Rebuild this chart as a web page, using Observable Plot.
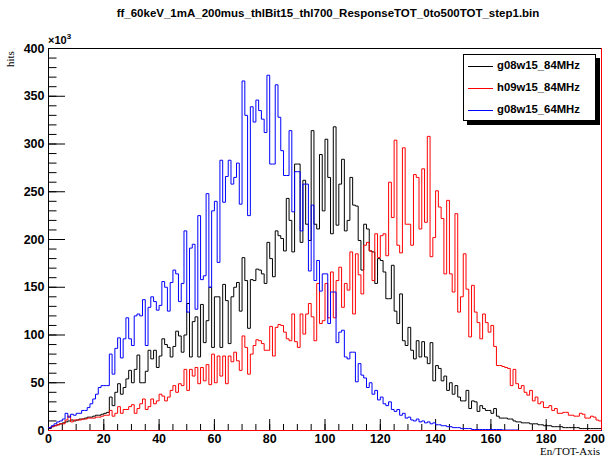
<!DOCTYPE html>
<html><head><meta charset="utf-8">
<script src="https://cdn.jsdelivr.net/npm/d3@7"></script>
<script src="https://cdn.jsdelivr.net/npm/@observablehq/plot@0.6"></script>
<style>
body{margin:0;background:#fff;}
#wrap{position:relative;width:608px;height:461px;font-family:"Liberation Sans",Arial,sans-serif;}
#title{position:absolute;left:24px;top:7px;width:608px;text-align:center;font-weight:bold;font-size:11.5px;color:#000;white-space:nowrap;}
#ylab{position:absolute;left:4px;top:47px;font-family:"Liberation Serif",serif;font-size:11px;transform-origin:left top;transform:translate(0,20px) rotate(-90deg);}
#mult{position:absolute;left:48px;top:32px;font-weight:bold;font-size:11px;}
#xlab{position:absolute;right:8px;top:445px;font-family:"Liberation Serif",serif;font-size:11px;}
#legend{position:absolute;left:463px;top:54px;width:131px;height:65px;border:1px solid #000;background:#fff;box-shadow:4px 4px 0 #000;}
.row{position:absolute;left:0;height:14px;font-weight:bold;font-size:11.3px;}
.row span.l{position:absolute;left:4px;top:7px;width:25px;border-top:1px solid;}
.row span.t{position:absolute;left:33px;top:0;white-space:nowrap;}
</style></head><body>
<div id="wrap">
<div id="chart"></div>
<div id="title"></div>
<div id="ylab">hits</div>
<div id="mult">×10<sup style="font-size:8px">3</sup></div>
<div id="xlab">En/TOT-Axis</div>
<div id="legend"></div>
</div>
<script>
const title = "ff_60keV_1mA_200mus_thlBit15_thl700_ResponseTOT_0to500TOT_step1.bin";
const seriesNames = ["g08w15_84MHz", "h09w15_84MHz", "g08w15_64MHz"];
const seriesColors = ["#000000", "#ff0000", "#0000ff"];
const xTicks = [0, 20, 40, 60, 80, 100, 120, 140, 160, 180, 200];
const yTicks = [0, 50, 100, 150, 200, 250, 300, 350, 400];
const binStarts = d3.range(0, 200);

// values in thousands of hits, bins 0..199
const g08w15_84 = [
2,4,5,6,7,8,9,10,11,10,
11,12,12,13,14,14,15,16,16,17,
18,19,35,26,40,49,38,45,54,63,
50,64,79,50,50,62,84,75,84,66,
78,96,90,87,77,88,104,99,82,100,
133,77,114,119,77,132,92,115,150,87,
140,140,87,153,136,91,140,150,155,125,
181,157,107,158,157,169,168,164,154,197,
180,161,209,204,201,188,243,220,187,279,
279,197,262,216,199,314,216,211,289,230,
305,265,206,318,215,258,284,209,220,265,
236,235,199,168,216,211,188,187,154,180,
178,166,138,138,173,125,112,143,94,89,
108,84,75,94,77,93,77,70,92,52,
68,65,52,57,42,50,38,47,35,31,
31,42,23,31,30,20,26,23,21,21,
18,23,15,13,13,13,12,12,10,9,
9,8,8,8,7,7,7,6,6,5,
5,5,4,4,4,4,3,3,3,3,
3,3,2,2,2,2,2,2,2,2];
const h09w15_84 = [
3,4,5,6,7,7,11,15,9,11,
11,11,12,12,13,13,13,14,14,15,
16,16,21,15,18,25,18,22,22,25,
27,18,23,28,33,22,25,33,28,31,
38,36,31,35,42,47,40,49,47,64,
42,64,57,66,49,66,52,69,48,80,
50,78,57,78,49,78,72,82,73,63,
99,87,59,80,89,95,94,91,84,84,
109,78,108,111,110,103,96,94,122,93,
87,122,101,122,133,119,94,154,112,115,
154,118,166,118,157,171,129,154,147,187,
122,185,163,143,194,197,188,157,206,181,
204,206,183,260,223,304,194,186,296,216,
216,194,268,265,211,274,218,308,182,202,
251,234,222,164,241,164,145,227,124,140,
185,148,98,152,124,113,96,122,113,103,
110,88,68,68,67,66,65,47,64,49,
44,47,40,37,42,31,35,28,30,24,
24,26,21,23,18,18,19,19,16,16,
15,15,18,17,13,13,15,14,11,10];
const g08w15_64 = [
3,5,7,9,10,12,18,14,17,16,
18,18,21,21,24,28,33,38,45,47,
47,47,80,59,86,97,76,96,118,96,
89,120,122,120,137,89,129,140,135,126,
131,156,150,125,155,168,164,135,154,209,
124,191,195,127,225,158,162,248,150,230,
240,176,283,239,266,283,258,265,280,237,
366,330,225,339,323,346,335,326,312,372,
279,279,362,328,293,267,267,314,229,271,
271,209,258,258,167,236,157,178,146,164,
164,112,145,145,92,103,105,77,75,82,
82,51,70,58,55,45,50,38,42,32,
35,28,26,30,22,20,22,16,18,13,
14,11,10,12,9,10,8,9,7,8,
6,6,5,5,4,4,3,3,3,2,
2,2,2,1,1,1,1,1,1,1,
1,1,1,1,0.5,0.5,0.5,0.5,0.5,0.5,
0,0,0,0,0,0,0,0,0,0,
0,0,0,0,0,0,0,0,0,0,
0,0,0,0,0,0,0,0,0,0];
const seriesValues = [g08w15_84, h09w15_84, g08w15_64];

function steps(vals) {
  const pts = binStarts.map((b, i) => ({x: b, y: vals[i]}));
  pts.push({x: binStarts[binStarts.length - 1] + 1, y: vals[vals.length - 1]});
  return pts;
}
const xMinor = d3.range(0, 201, 5);
const yMinor = d3.range(0, 401, 10);
const font = {fontFamily: "Liberation Sans", fontWeight: "bold", fontSize: 12.5};

const chart = Plot.plot({
  width: 608, height: 461,
  marginLeft: 48, marginRight: 7, marginTop: 48, marginBottom: 31,
  style: {background: "white", fontFamily: "Liberation Sans"},
  x: {domain: [0, 200]},
  y: {domain: [0, 400]},
  marks: [
    Plot.frame({stroke: "black"}),
    Plot.axisY(yMinor, {tickSize: -8.5, text: null, label: null, stroke: "black"}),
    Plot.axisY(yTicks, {tickSize: -17, tickPadding: 0, text: null, label: null, stroke: "black"}),
    Plot.axisY(yTicks, {tickSize: 0, tickPadding: 4, label: null, ...font}),
    Plot.axisX(xMinor, {tickSize: -6, text: null, label: null, stroke: "black"}),
    Plot.axisX(xTicks, {tickSize: -11, text: null, label: null, stroke: "black"}),
    Plot.axisX(xTicks.slice(0, -1), {tickSize: 0, tickPadding: 4, label: null, ...font}),
    Plot.axisX(xTicks.slice(-1), {tickSize: 0, tickPadding: 4, label: null, dx: -7, ...font}),
    ...seriesValues.map((v, k) => Plot.line(steps(v), {x: "x", y: "y", curve: "step-after", stroke: seriesColors[k], strokeWidth: 1})),
    Plot.ruleY([yTicks[0]], {stroke: "#ff0000"}),
    Plot.ruleX([xTicks[xTicks.length - 1]], {stroke: "#ff0000"})
  ]
});
document.getElementById("chart").appendChild(chart);
document.getElementById("title").textContent = title;
const leg = document.getElementById("legend");
seriesNames.forEach((n, k) => {
  const r = document.createElement("div");
  r.className = "row";
  r.style.top = (4 + k * 22) + "px";
  r.innerHTML = `<span class="l" style="border-color:${seriesColors[k]}"></span><span class="t">${n}</span>`;
  leg.appendChild(r);
});
</script>
</body></html>
